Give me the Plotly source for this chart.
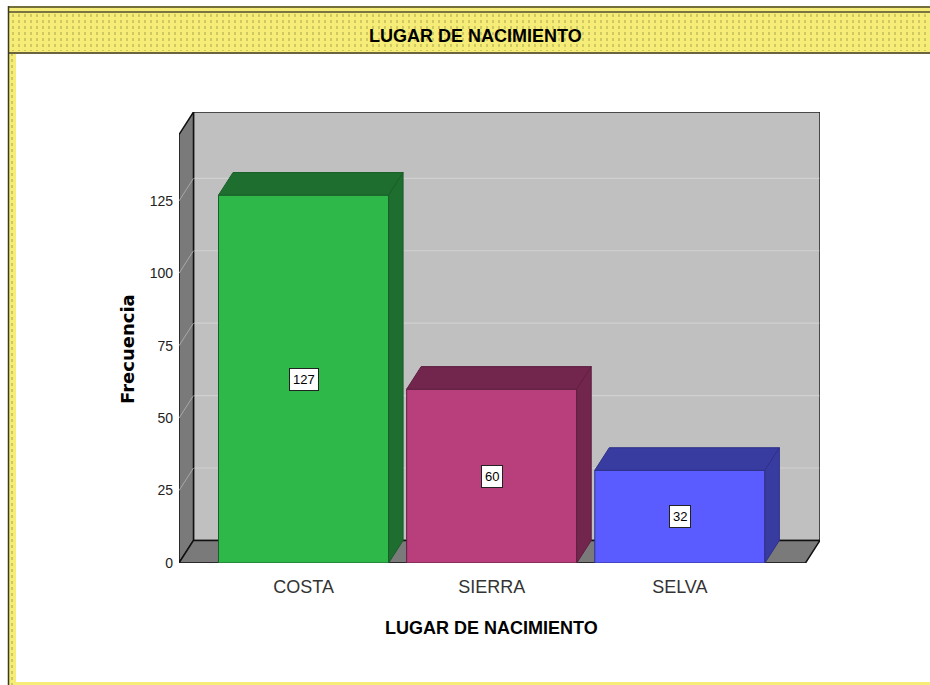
import plotly.graph_objects as go

# ---- data ----
categories = ["COSTA", "SIERRA", "SELVA"]
values = [127, 60, 32]
y_ticks = [0, 25, 50, 75, 100, 125]
title_text = "LUGAR DE NACIMIENTO"
y_title = "Frecuencia"

# ---- styles ----
front_colors = ["#2eb84a", "#b83f7b", "#5a5cff"]
dark_colors = ["#1e6e2f", "#72264e", "#383ca0"]
edge_colors = ["#1a5e28", "#5e1f40", "#2e3088"]
wall_col = "#c0c0c0"
side_col = "#7a7a7a"
SANS = "Liberation Sans, Arial"

W, H = 930, 685
L, R, T, B = 179, 820, 112, 563  # plot area in pixels
XMIN, XMAX = -0.662, 2.745
YMAX = 155.7
DX, DY = 0.077, 7.8  # depth offset in data units
BAR_W = 0.904
XF = XMAX - DX  # front right edge of floor


def px(x):
    return (x - L) / (R - L)


def py(y):
    return (B - y) / (B - T)


def poly(xs, ys):
    return "M " + " L ".join(f"{a},{b}" for a, b in zip(xs, ys)) + " Z"


fig = go.Figure()
shapes = []

# back wall
shapes.append(dict(type="path", xref="x", yref="y", layer="below",
                   path=poly([XMIN + DX, XMAX, XMAX, XMIN + DX], [DY, DY, YMAX, YMAX]),
                   fillcolor=wall_col, line=dict(color="#222", width=1.5)))
for v in y_ticks[1:]:
    shapes.append(dict(type="line", xref="x", yref="y", layer="below",
                       x0=XMIN + DX, x1=XMAX - 0.004, y0=v + DY, y1=v + DY,
                       line=dict(color="#d0d0d0", width=1.2)))
# left wall
shapes.append(dict(type="path", xref="x", yref="y", layer="below",
                   path=poly([XMIN, XMIN + DX, XMIN + DX, XMIN], [0, DY, YMAX, YMAX - DY]),
                   fillcolor=side_col, line=dict(color="#111", width=1.5)))
for v in y_ticks[1:]:
    shapes.append(dict(type="line", xref="x", yref="y", layer="below",
                       x0=XMIN, x1=XMIN + DX, y0=v, y1=v + DY,
                       line=dict(color="#a8a8a8", width=1)))
# floor
shapes.append(dict(type="path", xref="x", yref="y", layer="below",
                   path=poly([XMIN, XF, XMAX, XMIN + DX], [0, 0, DY, DY]),
                   fillcolor=side_col, line=dict(color="#111", width=1.5)))

# bar front faces
fig.add_trace(go.Bar(
    x=list(range(len(categories))), y=values, width=BAR_W,
    marker=dict(color=front_colors, line=dict(color=edge_colors, width=1)),
    hoverinfo="skip", showlegend=False))

# bar top and side faces
for i, v in enumerate(values):
    xl, xr = i - BAR_W / 2, i + BAR_W / 2
    fig.add_trace(go.Scatter(
        x=[xl, xr, xr + DX, xl + DX, xl], y=[v, v, v + DY, v + DY, v],
        fill="toself", fillcolor=dark_colors[i], mode="lines",
        line=dict(color=edge_colors[i], width=1), hoverinfo="skip", showlegend=False))
    fig.add_trace(go.Scatter(
        x=[xr, xr + DX, xr + DX, xr, xr], y=[0, DY, v + DY, v, 0],
        fill="toself", fillcolor=dark_colors[i], mode="lines",
        line=dict(color=edge_colors[i], width=1), hoverinfo="skip", showlegend=False))

# value labels
for i, v in enumerate(values):
    fig.add_annotation(x=i, y=v / 2, text=str(v), showarrow=False,
                       font=dict(family=SANS, size=13, color="#000"),
                       bgcolor="white", bordercolor="#222", borderwidth=1, borderpad=3)

# header band and frame
YEL = "#f5ed78"
shapes += [
    dict(type="rect", xref="paper", yref="paper", x0=px(8), x1=px(935), y0=py(6), y1=py(53),
         fillcolor=YEL, line=dict(width=0), layer="below"),
    dict(type="rect", xref="paper", yref="paper", x0=px(8), x1=px(16), y0=py(53), y1=py(690),
         fillcolor=YEL, line=dict(width=0), layer="below"),
    dict(type="rect", xref="paper", yref="paper", x0=px(8), x1=px(935), y0=py(682), y1=py(690),
         fillcolor=YEL, line=dict(width=0), layer="below"),
]
# dotted texture
for xx in range(13, 930, 6):
    shapes.append(dict(type="line", xref="paper", yref="paper", x0=px(xx), x1=px(xx),
                       y0=py(14), y1=py(51), line=dict(color="#aaa24a", width=1, dash="dot")))
shapes.append(dict(type="line", xref="paper", yref="paper", x0=px(12), x1=px(12),
                   y0=py(53), y1=py(685), line=dict(color="#aaa24a", width=1, dash="dot")))
shapes += [
    dict(type="line", xref="paper", yref="paper", x0=px(8), x1=px(935), y0=py(7), y1=py(7),
         line=dict(color="#4a4528", width=1.5)),
    dict(type="line", xref="paper", yref="paper", x0=px(8), x1=px(935), y0=py(12), y1=py(12),
         line=dict(color="#7a7440", width=2)),
    dict(type="line", xref="paper", yref="paper", x0=px(8), x1=px(935), y0=py(53), y1=py(53),
         line=dict(color="#6a6540", width=2)),
    dict(type="line", xref="paper", yref="paper", x0=px(8.5), x1=px(8.5), y0=py(6), y1=py(690),
         line=dict(color="#3a3a20", width=1.5)),
]

fig.update_layout(shapes=shapes)

fig.add_annotation(xref="paper", yref="paper", x=px(475), y=py(36), text="<b>" + title_text + "</b>",
                   showarrow=False, font=dict(family=SANS, size=18, color="#000"),
                   xanchor="center", yanchor="middle")
fig.add_annotation(xref="paper", yref="paper", x=px(491), y=py(628), text="<b>" + title_text + "</b>",
                   showarrow=False, font=dict(family=SANS, size=18, color="#000"),
                   xanchor="center", yanchor="middle")
fig.add_annotation(xref="paper", yref="paper", x=px(127), y=py(349), text="<b>" + y_title + "</b>",
                   showarrow=False, textangle=-90,
                   font=dict(family="DejaVu Sans, Verdana, Arial", size=18, color="#000"),
                   xanchor="center", yanchor="middle")

fig.update_layout(
    width=W, height=H,
    margin=dict(l=L, r=W - R, t=T, b=H - B, pad=0),
    paper_bgcolor="white", plot_bgcolor="white",
    barmode="overlay",
    xaxis=dict(range=[XMIN, XMAX], tickvals=list(range(len(categories))), ticktext=categories,
               showgrid=False, zeroline=False, showline=False, ticks="",
               tickfont=dict(family=SANS, size=18, color="#333"),
               ticklabelstandoff=11, fixedrange=True),
    yaxis=dict(range=[0, YMAX], tickvals=y_ticks, showgrid=False, zeroline=False,
               showline=False, ticks="",
               tickfont=dict(family=SANS, size=14, color="#222"),
               ticklabelstandoff=5, fixedrange=True),
)

fig.write_html("out.html", post_script="document.body.style.margin='0px';",
               config={"displayModeBar": False})
